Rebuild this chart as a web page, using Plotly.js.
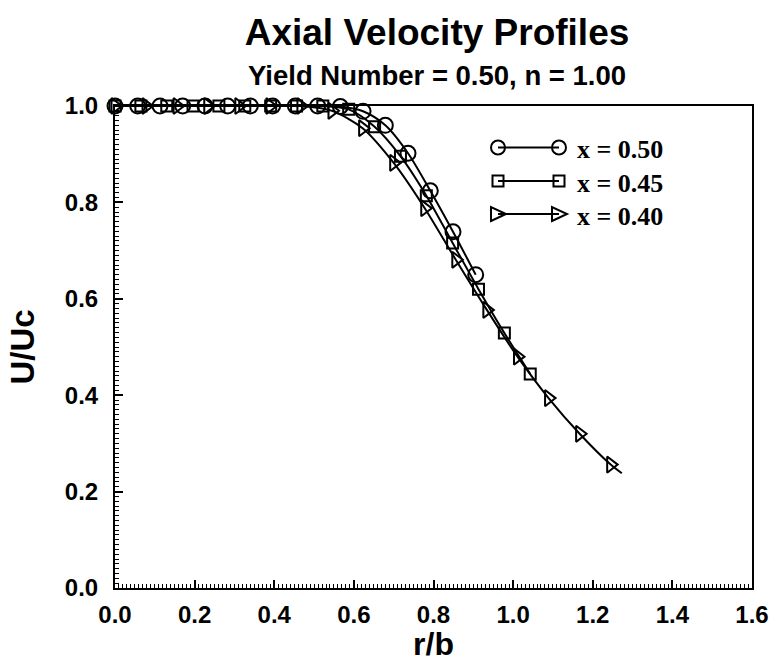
<!DOCTYPE html>
<html>
<head>
<meta charset="utf-8">
<script src="https://cdn.plot.ly/plotly-3.0.1.min.js"></script>
<style>html,body{margin:0;padding:0;background:#fff;}#chart{width:774px;height:662px;}</style>
</head>
<body>
<div id="chart"></div>
<script>
// ---- data ----
const seriesNames = ['x = 0.50', 'x = 0.45', 'x = 0.40'];

const rbCircle = [0, 0.057, 0.113, 0.170, 0.226, 0.283, 0.340, 0.396, 0.453, 0.509, 0.566, 0.623, 0.679, 0.736, 0.792, 0.849, 0.906];
const uCircle  = [1, 1, 1, 1, 1, 1, 1, 1, 1, 1, 0.999, 0.989, 0.960, 0.902, 0.824, 0.739, 0.650];

const rbSquare = [0, 0.065, 0.130, 0.196, 0.261, 0.326, 0.391, 0.456, 0.522, 0.587, 0.652, 0.717, 0.782, 0.848, 0.913, 0.978, 1.043];
const uSquare  = [1, 1, 1, 1, 1, 1, 1, 1, 1, 0.993, 0.957, 0.896, 0.814, 0.716, 0.620, 0.529, 0.444];

const rbTri = [0, 0.078, 0.156, 0.233, 0.311, 0.389, 0.467, 0.545, 0.622, 0.700, 0.778, 0.856, 0.934, 1.011, 1.089, 1.167, 1.245, 1.273];
const uTri  = [1, 1, 1, 1, 1, 1, 1, 0.990, 0.954, 0.882, 0.788, 0.681, 0.577, 0.480, 0.394, 0.320, 0.256, 0.238];

const xTickVals = [0, 0.2, 0.4, 0.6, 0.8, 1.0, 1.2, 1.4, 1.6];
const xTickText = ['0.0', '0.2', '0.4', '0.6', '0.8', '1.0', '1.2', '1.4', '1.6'];
const yTickVals = [0, 0.2, 0.4, 0.6, 0.8, 1.0];
const yTickText = ['0.0', '0.2', '0.4', '0.6', '0.8', '1.0'];

// ---- styling ----
const symbols = ['circle-open', 'square-open', 'triangle-right-open'];
const sizes = [15, 11, 14];
const SANS = 'Liberation Sans, Arial, Helvetica, sans-serif';
const SERIF = 'Liberation Serif, Times New Roman, serif';

function mk(xs, ys, i, lastHidden) {
  const sz = xs.map((_, k) => (lastHidden && k === xs.length - 1) ? 0 : sizes[i]);
  return {
    x: xs, y: ys, type: 'scatter', mode: 'lines+markers', name: seriesNames[i],
    cliponaxis: false,
    line: {color: '#000', width: 2, shape: 'spline', smoothing: 0.8},
    marker: {symbol: symbols[i], size: sz, opacity: 1, color: '#000', line: {color: '#000', width: 2}},
    showlegend: false
  };
}

const traces = [
  mk(rbCircle, uCircle, 0, false),
  mk(rbSquare, uSquare, 1, false),
  mk(rbTri, uTri, 2, true)
];

// custom legend: line with marker at both ends, plus serif text
const plotL = 115, plotR = 752, plotT = 106, plotB = 588;
const px2x = p => (p - plotL) / (plotR - plotL);
const px2y = p => (plotB - p) / (plotB - plotT);
const rows = [147.5, 181, 214];
const legL = 498, legR = 559, textX = 575;

const shapes = [];
const annotations = [];
rows.forEach((ry, i) => {
  const yy = px2y(ry);
  shapes.push({type: 'line', xref: 'paper', yref: 'paper', x0: px2x(legL), x1: px2x(legR), y0: yy, y1: yy,
               line: {color: '#000', width: 2}});
  [legL, legR].forEach(lx => {
    const base = {xref: 'paper', yref: 'paper', xsizemode: 'pixel', ysizemode: 'pixel',
                  xanchor: px2x(lx), yanchor: yy, line: {color: '#000', width: 2}, fillcolor: 'rgba(0,0,0,0)'};
    if (i === 0) shapes.push(Object.assign({type: 'circle', x0: -7, x1: 7, y0: -7, y1: 7}, base));
    else if (i === 1) shapes.push(Object.assign({type: 'rect', x0: -5.5, x1: 5.5, y0: -5.5, y1: 5.5}, base));
    else shapes.push(Object.assign({type: 'path', path: 'M -7,-7 L 8,0 L -7,7 Z'}, base));
  });
  annotations.push({xref: 'paper', yref: 'paper', x: px2x(textX), y: px2y(ry + 2), xanchor: 'left', yanchor: 'middle',
                    showarrow: false, text: seriesNames[i],
                    font: {family: SERIF, size: 26, color: '#000', weight: 'bold'}});
});

annotations.push({xref: 'paper', yref: 'paper', x: px2x(437), y: px2y(75), xanchor: 'center', yanchor: 'middle',
                  showarrow: false, text: 'Yield Number = 0.50, n = 1.00',
                  font: {family: SANS, size: 27.5, color: '#000', weight: 'bold'}});

const axisCommon = {
  showline: true, linecolor: '#000', linewidth: 2, mirror: true,
  showgrid: false, zeroline: false,
  ticks: 'inside', ticklen: 8, tickwidth: 2, tickcolor: '#000',
  tickfont: {family: SANS, size: 24, color: '#000', weight: 'bold'},
  tickmode: 'array',
  minor: {ticks: 'inside', ticklen: 4, tickwidth: 1, tickcolor: '#000', dtick: 0.01, showgrid: false}
};

const layout = {
  width: 774, height: 662,
  margin: {l: plotL, r: 774 - plotR, t: plotT, b: 662 - plotB, pad: 0},
  paper_bgcolor: '#fff', plot_bgcolor: '#fff',
  title: {text: 'Axial Velocity Profiles', x: 437 / 774, xanchor: 'center', y: 1 - 32 / 662, yanchor: 'middle',
          font: {family: SANS, size: 37, color: '#000', weight: 'bold'}},
  xaxis: Object.assign({}, axisCommon, {range: [0, 1.6], tickvals: xTickVals, ticktext: xTickText,
          ticklabelstandoff: 4,
          title: {text: 'r/b', font: {family: SANS, size: 32, color: '#000', weight: 'bold'}, standoff: 8}}),
  yaxis: Object.assign({}, axisCommon, {range: [0, 1.0], tickvals: yTickVals, ticktext: yTickText,
          ticklabelstandoff: 10,
          title: {text: 'U/Uc', font: {family: SANS, size: 33, color: '#000', weight: 'bold'}, standoff: 20}}),
  shapes: shapes,
  annotations: annotations
};

Plotly.newPlot('chart', traces, layout, {displayModeBar: false, staticPlot: true});
</script>
</body>
</html>
